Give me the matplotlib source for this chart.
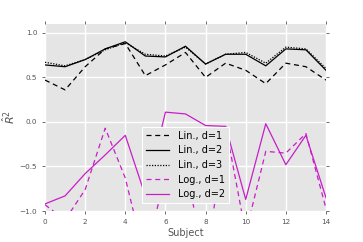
import numpy as np
import matplotlib
matplotlib.use("Agg")
import matplotlib.pyplot as plt

subjects = np.arange(15)

lin_d1 = [0.47, 0.36, 0.62, 0.82, 0.88, 0.52, 0.64, 0.78, 0.50, 0.66, 0.58, 0.43, 0.66, 0.62, 0.47]
lin_d2 = [0.64, 0.62, 0.70, 0.82, 0.90, 0.74, 0.73, 0.85, 0.65, 0.76, 0.76, 0.63, 0.82, 0.81, 0.58]
lin_d3 = [0.67, 0.63, 0.70, 0.81, 0.89, 0.76, 0.74, 0.84, 0.65, 0.76, 0.78, 0.66, 0.84, 0.82, 0.60]
log_d1 = [-0.93, -1.10, -0.76, -0.07, -0.63, -1.55, -0.57, -0.49, -1.63, -0.05, -1.25, -0.33, -0.35, -0.13, -0.97]
log_d2 = [-0.92, -0.83, -0.58, -0.37, -0.15, -0.83, 0.11, 0.09, -0.04, -0.05, -0.87, -0.02, -0.48, -0.15, -0.85]

magenta = '#c81ec8'
grey_txt = '#555555'

fig = plt.figure(figsize=(3.63, 2.42), dpi=100)
ax = fig.add_axes([0.124, 0.128, 0.774, 0.773])
ax.set_facecolor('#e5e5e5')
for s in ax.spines.values():
    s.set_visible(False)
ax.grid(True, color='white', linewidth=1.0)
ax.set_axisbelow(True)

ax.plot(subjects, lin_d1, color='black', lw=0.9, dashes=(4, 3), label='Lin., d=1')
ax.plot(subjects, lin_d2, color='black', lw=0.9, label='Lin., d=2')
ax.plot(subjects, lin_d3, color='black', lw=0.9, dashes=(1, 1.2), label='Lin., d=3')
ax.plot(subjects, log_d1, color=magenta, lw=0.9, dashes=(4, 3), label='Log., d=1')
ax.plot(subjects, log_d2, color=magenta, lw=0.9, label='Log., d=2')

ax.set_xlim(0, 14)
ax.set_ylim(-1.0, 1.1)
ax.set_xticks(range(0, 15, 2))
ax.set_yticks([-1.0, -0.5, 0.0, 0.5, 1.0])
ax.tick_params(axis='both', direction='out', length=2.5, width=0.6, color=grey_txt,
               labelcolor=grey_txt, labelsize=5.2, pad=3,
               top=True, right=True)

ax.set_xlabel('Subject', fontsize=7, color=grey_txt, labelpad=2.5)
ax.set_ylabel(r'$\hat{R}^2$', fontsize=8, color=grey_txt, labelpad=2)

leg = ax.legend(loc='lower center', bbox_to_anchor=(0.5, 0.015), fontsize=7.0,
                frameon=True, facecolor='#e5e5e5', edgecolor='white', framealpha=1.0,
                fancybox=False, handlelength=2.4, labelspacing=0.48, borderpad=0.4,
                handletextpad=0.9)
leg.get_frame().set_linewidth(0.8)

fig.savefig('out.png', dpi=100)
